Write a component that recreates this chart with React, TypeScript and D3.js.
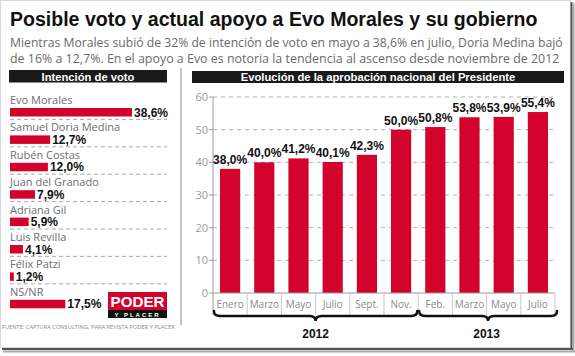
import React, { useLayoutEffect, useRef, useState } from "react";
import * as d3 from "d3";

const candidates = ["Evo Morales", "Samuel Doria Medina", "Rubén Costas", "Juan del Granado", "Adriana Gil", "Luis Revilla", "Félix Patzi", "NS/NR"];
const voteIntent = [38.6, 12.7, 12.0, 7.9, 5.9, 4.1, 1.2, 17.5];

const months = ["Enero", "Marzo", "Mayo", "Julio", "Sept.", "Nov.", "Feb.", "Marzo", "Mayo", "Julio"];
const approval = [38.0, 40.0, 41.2, 40.1, 42.3, 50.0, 50.8, 53.8, 53.9, 55.4];
const years = ["2012", "2013"];
const monthsPerYear = [6, 4];
const yTicks = [0, 10, 20, 30, 40, 50, 60];

const title = "Posible voto y actual apoyo a Evo Morales y su gobierno";
const subtitle1 = "Mientras Morales subió de 32% de intención de voto en mayo a 38,6% en julio, Doria Medina bajó";
const subtitle2 = "de 16% a 12,7%. En el apoyo a Evo es notoria la tendencia al ascenso desde noviembre de 2012";
const leftHeader = "Intención de voto";
const rightHeader = "Evolución de la aprobación nacional del Presidente";
const source = "FUENTE: CAPTURA CONSULTING, PARA REVISTA PODER Y PLACER";

const RED = "#d3022c";
const fmt = (v: number) => d3.format(".1f")(v).replace(".", ",") + "%";
const SANS = "'Open Sans', 'Noto Sans', sans-serif";
const BOLD = "'Liberation Sans', Arial, sans-serif";

function FitText(props: any) {
  const { x, y, width, anchor = "start", children, ...rest } = props;
  const ref = useRef<SVGTextElement>(null);
  const [s, setS] = useState(1);
  useLayoutEffect(() => {
    if (ref.current) {
      const len = ref.current.getComputedTextLength();
      if (len > 0) setS(width / len);
    }
  }, [width, children]);
  return (
    <text ref={ref} transform={`translate(${x},${y}) scale(${s},1)`} textAnchor={anchor} {...rest}>
      {children}
    </text>
  );
}

function bracePath(x1: number, x2: number, y0: number) {
  const xm = (x1 + x2) / 2;
  const yb = y0 + 5;
  const yp = y0 + 10;
  const r = 6;
  return `M${x1},${y0} Q${x1},${yb} ${x1 + r},${yb} L${xm - r},${yb} Q${xm},${yb} ${xm},${yp} Q${xm},${yb} ${xm + r},${yb} L${x2 - r},${yb} Q${x2},${yb} ${x2},${y0}`;
}

export default function App() {
  const rowBand = d3.scaleBand<string>().domain(candidates).range([92, 92 + 8 * 27.4]);
  const xLeft = d3.scaleLinear().domain([0, 40]).range([10, 136.4]);

  const plotL = 213, plotR = 555;
  const xBand = d3.scaleBand<number>().domain(d3.range(months.length)).range([plotL, plotR]).paddingInner(0.41).paddingOuter(0.205);
  const step = (plotR - plotL) / months.length;
  const y = d3.scaleLinear().domain([0, 60]).range([293, 97]);

  let acc = 0;
  const yearSpans = years.map((yr, i) => {
    const s = plotL + acc * step;
    acc += monthsPerYear[i];
    const e = plotL + acc * step;
    return { yr, s, e };
  });

  return (
    <svg width={575} height={356} style={{ position: "absolute", left: 0, top: 0, background: "#fff" }}>
      {/* frame */}
      <rect x={0.5} y={0.5} width={570} height={347} fill="#fff" stroke="#d8d8d8" />
      <line x1={571.5} y1={2} x2={571.5} y2={349} stroke="#555" strokeWidth={2} />
      <line x1={573.5} y1={3} x2={573.5} y2={351} stroke="#aaa" strokeWidth={2} />
      <line x1={2} y1={349} x2={573} y2={349} stroke="#555" strokeWidth={2} />
      <line x1={3} y1={351.5} x2={575} y2={351.5} stroke="#aaa" strokeWidth={2} />

      {/* title */}
      <FitText x={10} y={26} width={528} fontFamily={BOLD} fontWeight="bold" fontSize={21} fill="#111">{title}</FitText>
      <FitText x={10} y={47} width={553} fontFamily={SANS} fontSize={12.5} fill="#6a6a6a">{subtitle1}</FitText>
      <FitText x={10} y={62.5} width={550} fontFamily={SANS} fontSize={12.5} fill="#6a6a6a">{subtitle2}</FitText>

      {/* divider */}
      <line x1={181} y1={68} x2={181} y2={325} stroke="#888" strokeWidth={1} />

      {/* left header */}
      <rect x={9} y={70} width={158} height={12.5} fill="#1a1a1a" />
      <FitText x={88} y={80.5} width={93} anchor="middle" fontFamily={BOLD} fontWeight="bold" fontSize={11.5} fill="#fff">{leftHeader}</FitText>

      {/* left rows */}
      {candidates.map((c, i) => {
        const t = rowBand(c)!;
        const v = voteIntent[i];
        return (
          <g key={c}>
            <text x={10} y={t + 12} fontFamily={SANS} fontSize={11} fill="#6e6e6e">{c}</text>
            <rect x={xLeft(0)} y={t + 16} width={xLeft(v) - xLeft(0)} height={8.5} fill={RED} />
            <text x={xLeft(v) + 2} y={t + 24.5} fontFamily={BOLD} fontWeight="bold" fontSize={12} fill="#111">{fmt(v)}</text>
            {i < candidates.length - 1 && (
              <line x1={10} x2={167} y1={t + rowBand.step()} y2={t + rowBand.step()} stroke="#aaa" strokeDasharray="4,3" />
            )}
          </g>
        );
      })}

      {/* logo */}
      <rect x={108} y={292} width={59} height={18} fill={RED} />
      <FitText x={137.5} y={306.5} width={54} anchor="middle" fontFamily={BOLD} fontWeight="bold" fontSize={15} fill="#fff">PODER</FitText>
      <rect x={108} y={310} width={59} height={8} fill="#111" />
      <text x={137.5} y={317.2} textAnchor="middle" fontFamily={BOLD} fontWeight="bold" fontSize={6} fill="#fff" letterSpacing={2}>Y PLACER</text>

      {/* source */}
      <FitText x={2} y={329} width={173} fontFamily={SANS} fontSize={6} fill="#888">{source}</FitText>

      {/* right header */}
      <rect x={192} y={71} width={372} height={12} fill="#1a1a1a" />
      <FitText x={378} y={81} width={275} anchor="middle" fontFamily={BOLD} fontWeight="bold" fontSize={11.5} fill="#fff">{rightHeader}</FitText>

      {/* grid and y axis */}
      {yTicks.map((t) => (
        <g key={t}>
          {t > 0 && <line x1={plotL} x2={plotR} y1={y(t)} y2={y(t)} stroke="#b0b0b0" strokeDasharray="4,4" />}
          <line x1={plotL - 4} x2={plotL} y1={y(t)} y2={y(t)} stroke="#999" />
          <text x={208} y={y(t) + 4} textAnchor="end" fontFamily={SANS} fontSize={11} fill="#999">{t}</text>
        </g>
      ))}
      <line x1={plotL} x2={plotL} y1={y(60)} y2={315} stroke="#999" />

      {/* bars */}
      {approval.map((v, i) => (
        <g key={i}>
          <rect x={xBand(i)!} y={y(v)} width={xBand.bandwidth()} height={y(0) - y(v)} fill={RED} />
          <text x={xBand(i)! + xBand.bandwidth() / 2} y={y(v) - 5} textAnchor="middle" fontFamily={BOLD} fontWeight="bold" fontSize={12} fill="#111">{fmt(v)}</text>
        </g>
      ))}

      {/* x axis */}
      <line x1={plotL} x2={plotR} y1={y(0)} y2={y(0)} stroke="#999" />
      {months.map((m, i) => (
        <g key={i}>
          <line x1={plotL + (i + 1) * step} x2={plotL + (i + 1) * step} y1={y(0)} y2={315} stroke="#c8c8c8" />
          <text x={xBand(i)! + xBand.bandwidth() / 2} y={308} textAnchor="middle" fontFamily={SANS} fontSize={10} fill="#8a8a8a">{m}</text>
        </g>
      ))}

      {/* year braces */}
      {yearSpans.map((s, i) => (
        <g key={s.yr}>
          <path d={bracePath(s.s + 1, s.e + (i === yearSpans.length - 1 ? 2 : -1), 311)} fill="none" stroke="#111" strokeWidth={2.4} strokeLinecap="round" />
          <text x={(s.s + s.e) / 2} y={338} textAnchor="middle" fontFamily={BOLD} fontWeight="bold" fontSize={12} fill="#111">{s.yr}</text>
        </g>
      ))}
    </svg>
  );
}
